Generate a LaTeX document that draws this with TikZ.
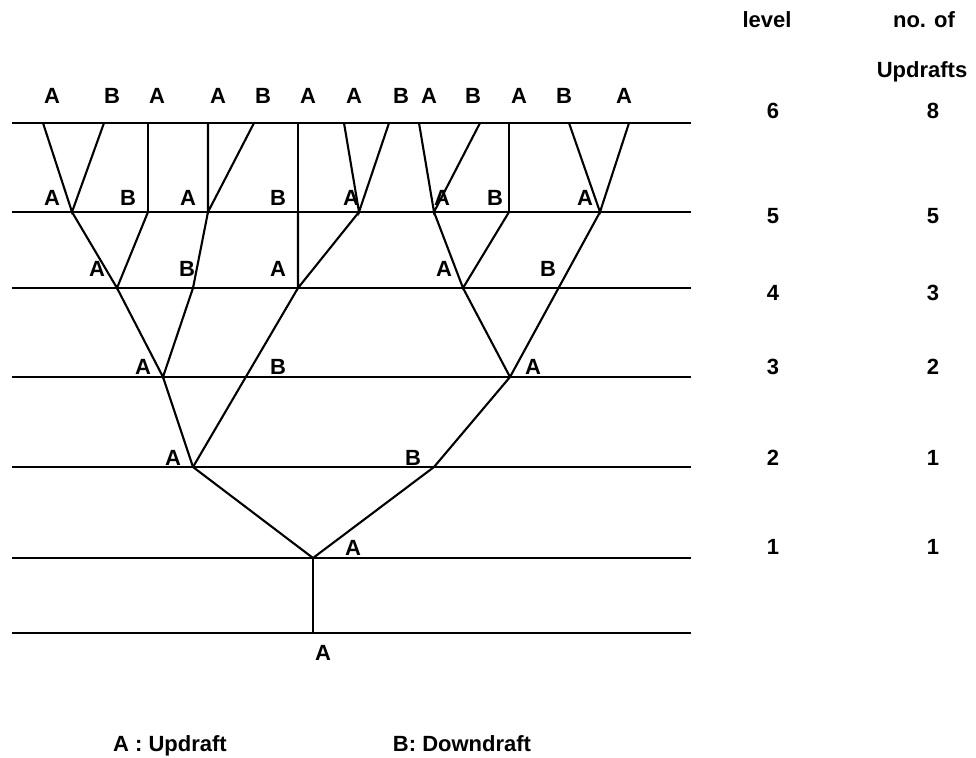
\documentclass[tikz,border=0pt]{standalone}
\usepackage{fontspec}
\newfontfamily\tagfont{Liberation Sans Bold}
\usepackage{tikz}

\begin{document}
\begin{tikzpicture}[x=1pt, y=-1pt,
    tagnode/.style={inner sep=0pt, text height=16pt, text depth=0pt, font=\tagfont\fontsize{22}{26}\selectfont},
    levelline/.style={line width=2.6pt},
    branch/.style={line width=2.1pt}]

        \useasboundingbox (0,0) rectangle (976,757);

        % level lines
        \coordinate (w6) at (12,123); \coordinate (e6) at (691,123);
        \coordinate (w5) at (12,212); \coordinate (e5) at (691,212);
        \coordinate (w4) at (12,288); \coordinate (e4) at (691,288);
        \coordinate (w3) at (12,377); \coordinate (e3) at (691,377);
        \coordinate (w2) at (12,467); \coordinate (e2) at (691,467);
        \coordinate (w1) at (12,558); \coordinate (e1) at (691,558);
        \coordinate (w0) at (12,633); \coordinate (e0) at (691,633);
        \draw[levelline] (w6) -- (e6);
        \draw[levelline] (w5) -- (e5);
        \draw[levelline] (w4) -- (e4);
        \draw[levelline] (w3) -- (e3);
        \draw[levelline] (w2) -- (e2);
        \draw[levelline] (w1) -- (e1);
        \draw[levelline] (w0) -- (e0);

        % branch points
        \coordinate (t1) at (43,123);  \coordinate (t2) at (104,123);
        \coordinate (t3) at (148,123); \coordinate (t4) at (208,123);
        \coordinate (t5) at (254,123); \coordinate (t6) at (298,123);
        \coordinate (t7) at (344,123); \coordinate (t8) at (389,123);
        \coordinate (t9) at (419,123); \coordinate (t10) at (480,123);
        \coordinate (t11) at (509,123); \coordinate (t12) at (569,123);
        \coordinate (t13) at (629,123);
        \coordinate (f1) at (72,212);  \coordinate (f2) at (148,212);
        \coordinate (f3) at (208,212); \coordinate (f4) at (298,212);
        \coordinate (f5) at (359,212); \coordinate (f6) at (434,212);
        \coordinate (f7) at (509,212); \coordinate (f8) at (600,212);
        \coordinate (d1) at (117,288); \coordinate (d2) at (193,288);
        \coordinate (d3) at (298,288); \coordinate (d4) at (463,288);
        \coordinate (c1) at (163,377); \coordinate (c2) at (510,377);
        \coordinate (b1) at (193,467); \coordinate (b2) at (434,467);
        \coordinate (a1) at (313,558);
        \coordinate (r) at (313,633);

        % branches
        \draw[branch] (t1) -- (f1) -- (t2);
        \draw[branch] (t3) -- (f2);
        \draw[branch] (t4) -- (f3) -- (t5);
        \draw[branch] (t6) -- (f4);
        \draw[branch] (t7) -- (f5) -- (t8);
        \draw[branch] (t9) -- (f6) -- (t10);
        \draw[branch] (t11) -- (f7);
        \draw[branch] (t12) -- (f8) -- (t13);
        \draw[branch] (f1) -- (d1) -- (f2);
        \draw[branch] (f3) -- (d2);
        \draw[branch] (f4) -- (d3) -- (f5);
        \draw[branch] (f6) -- (d4) -- (f7);
        \draw[branch] (f8) -- (c2);
        \draw[branch] (d1) -- (c1) -- (d2);
        \draw[branch] (d3) -- (b1);
        \draw[branch] (d4) -- (c2);
        \draw[branch] (c1) -- (b1);
        \draw[branch] (c2) -- (b2);
        \draw[branch] (b1) -- (a1) -- (b2);
        \draw[branch] (a1) -- (r);

        % labels, level 6
        \node[tagnode] (l6a) at (52,95) {A};
        \node[tagnode] (l6b) at (112,95) {B};
        \node[tagnode] (l6c) at (157,95) {A};
        \node[tagnode] (l6d) at (218,95) {A};
        \node[tagnode] (l6e) at (263,95) {B};
        \node[tagnode] (l6f) at (308,95) {A};
        \node[tagnode] (l6g) at (354,95) {A};
        \node[tagnode] (l6h) at (401,95) {B};
        \node[tagnode] (l6i) at (429,95) {A};
        \node[tagnode] (l6j) at (473,95) {B};
        \node[tagnode] (l6k) at (519,95) {A};
        \node[tagnode] (l6l) at (564,95) {B};
        \node[tagnode] (l6m) at (624,95) {A};

        % labels, level 5
        \node[tagnode] (l5a) at (52,197) {A};
        \node[tagnode] (l5b) at (128,197) {B};
        \node[tagnode] (l5c) at (188,197) {A};
        \node[tagnode] (l5d) at (278,197) {B};
        \node[tagnode] (l5e) at (351,197) {A};
        \node[tagnode] (l5f) at (442,197) {A};
        \node[tagnode] (l5g) at (495,197) {B};
        \node[tagnode] (l5h) at (585,197) {A};

        % labels, level 4
        \node[tagnode] (l4a) at (97,268) {A};
        \node[tagnode] (l4b) at (187,268) {B};
        \node[tagnode] (l4c) at (278,268) {A};
        \node[tagnode] (l4d) at (444,268) {A};
        \node[tagnode] (l4e) at (548,268) {B};

        % labels, levels 3 to 0
        \node[tagnode] (l3a) at (143,366) {A};
        \node[tagnode] (l3b) at (278,366) {B};
        \node[tagnode] (l3c) at (533,366) {A};
        \node[tagnode] (l2a) at (173,457) {A};
        \node[tagnode] (l2b) at (413,457) {B};
        \node[tagnode] (l1a) at (353,547) {A};
        \node[tagnode] (l0a) at (323,652) {A};

        % table on the right
        \node[tagnode] (lvlhead) at (767,20) {level};
        \node[tagnode] (numhead) at (924,20) {no. of};
        \node[tagnode] (numhead2) at (922,70) {Updrafts};
        \node[tagnode] (lvl6) at (773,110) {6};
        \node[tagnode] (lvl5) at (773,215) {5};
        \node[tagnode] (lvl4) at (773,292) {4};
        \node[tagnode] (lvl3) at (773,366) {3};
        \node[tagnode] (lvl2) at (773,457) {2};
        \node[tagnode] (lvl1) at (773,546) {1};
        \node[tagnode] (num6) at (933,110) {8};
        \node[tagnode] (num5) at (933,215) {5};
        \node[tagnode] (num4) at (933,292) {3};
        \node[tagnode] (num3) at (933,366) {2};
        \node[tagnode] (num2) at (933,457) {1};
        \node[tagnode] (num1) at (933,546) {1};

        % legend
        \node[tagnode] (keya) at (170,743) {A : Updraft};
        \node[tagnode] (keyb) at (462,743) {B: Downdraft};

        \end{tikzpicture}
\end{document}
